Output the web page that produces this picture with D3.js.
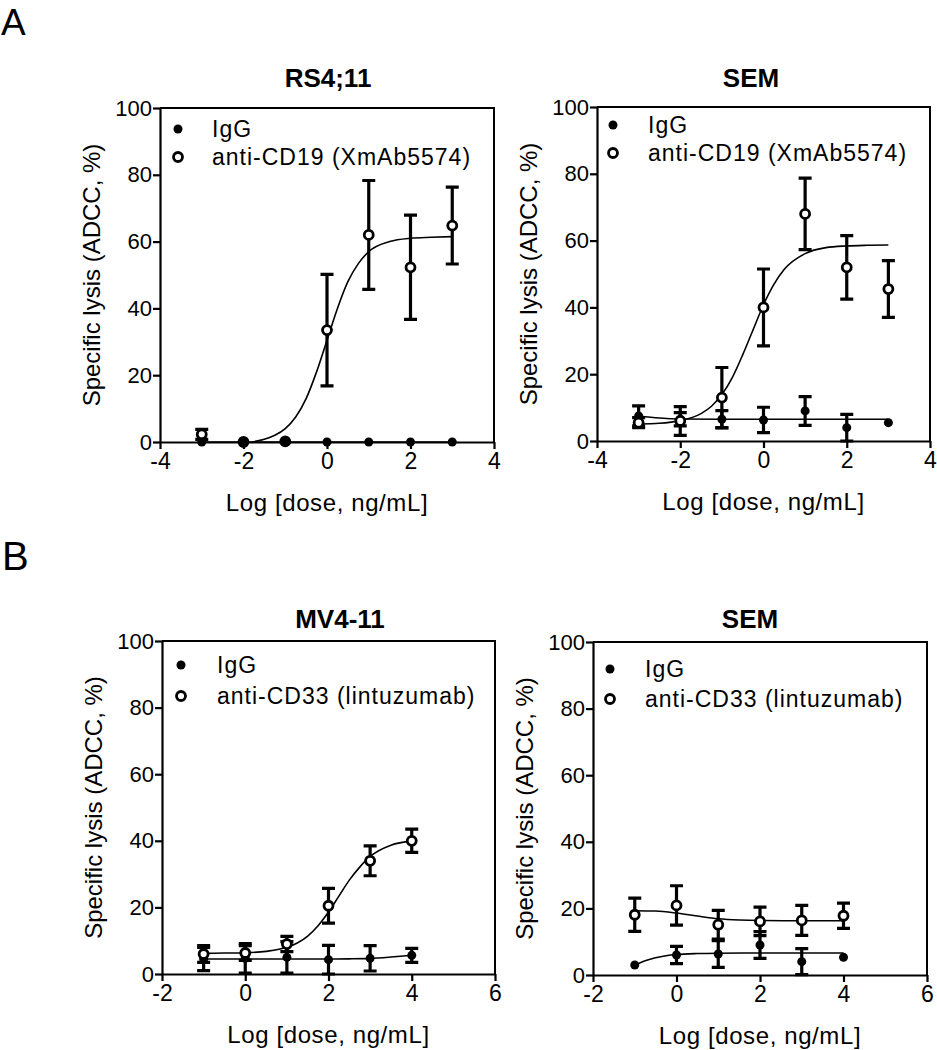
<!DOCTYPE html>
<html><head><meta charset="utf-8">
<script src="https://cdn.jsdelivr.net/npm/d3@7"></script>
<style>
body{margin:0;background:#fff}
text{font-family:"Liberation Sans",Arial,Helvetica,sans-serif;fill:#000}
</style>
</head><body>
<svg id="chart" width="937" height="1050"></svg>
<script>
// ---------------- DATA ----------------
const dosesA = [-3, -2, -1, 0, 1, 2, 3];
const dosesB = [-1, 0, 1, 2, 3, 4];
const yTicks = [0, 20, 40, 60, 80, 100];
const xTicksA = [-4, -2, 0, 2, 4];
const xTicksB = [-2, 0, 2, 4, 6];
const seriesNames = ["IgG", "anti-CD19 (XmAb5574)", "anti-CD33 (lintuzumab)"];
const panelTitles = ["RS4;11", "SEM", "MV4-11", "SEM"];
const panelLetters = ["A", "B"];

// RS4;11 (anti-CD19)
const rs411IgG = [0, 0, 0, 0, 0, 0, 0];
const rs411IgGErr = [0, 0, 0, 0, 0, 0, 0];
const rs411Ab = [2.3, 0, 0.2, 33.5, 62, 52.3, 64.8];
const rs411AbErr = [1.5, 0, 0, 16.7, 16.3, 15.6, 11.5];
const rs411AbFitX = [-1.8, -1.5, -1.25, -1, -0.75, -0.5, -0.25, 0, 0.25, 0.5, 0.75, 1, 1.5, 2, 2.5, 3];
const rs411AbFitY = [0, 0.8, 2, 4, 7.5, 13, 21, 30.5, 40, 48, 53.4, 57, 60, 61, 61.3, 61.5];
const rs411IgGFitX = [-3, 3];
const rs411IgGFitY = [0, 0];

// SEM (anti-CD19)
const semAIgG = [7.5, 6.5, 6.5, 6.3, 9, 4, 5.5];
const semAIgGErr = [3, 2, 2.6, 3.8, 4.3, 4, 0];
const semAAb = [5.5, 6.0, 13, 40, 68, 52, 45.5];
const semAAbErr = [1.5, 4.3, 9, 11.5, 10.7, 9.5, 8.5];
const semAAbFitX = [-3, -2.5, -2, -1.5, -1.25, -1, -0.75, -0.5, -0.25, 0, 0.25, 0.5, 1, 1.5, 2, 2.5, 3];
const semAAbFitY = [5.1, 5.3, 6.1, 8.2, 10.4, 13.9, 19, 25.8, 33.3, 40.8, 46.9, 51.4, 56.1, 57.9, 58.4, 58.6, 58.7];
const semAIgGFitX = [-3, -2.5, -2, -1, 0, 1, 2, 3];
const semAIgGFitY = [7.5, 6.9, 6.6, 6.5, 6.5, 6.5, 6.5, 6.5];

// MV4-11 (anti-CD33)
const mv411IgG = [4.5, 4.7, 5, 4.3, 4.7, 5.6];
const mv411IgGErr = [3.5, 4.4, 4.7, 4.3, 3.8, 2.1];
const mv411Ab = [6, 6.3, 9, 20.5, 34, 40];
const mv411AbErr = [2.5, 2.2, 2.3, 5.2, 4.5, 3.5];
const mv411AbFitX = [-1, -0.5, 0, 0.5, 1, 1.25, 1.5, 1.75, 2, 2.25, 2.5, 2.75, 3, 3.5, 4];
const mv411AbFitY = [6.2, 6.3, 6.4, 6.8, 8.0, 9.3, 11.4, 14.5, 18.6, 23.4, 28.2, 32.1, 35.3, 38.7, 39.9];
const mv411IgGFitX = [-1, 0, 1, 2, 2.5, 3, 3.5, 4];
const mv411IgGFitY = [4.5, 4.5, 4.5, 4.5, 4.55, 4.7, 5.1, 5.6];

// SEM (anti-CD33)
const semBIgG = [3.0, 6.0, 6.3, 9.0, 4.0, 5.3];
const semBIgGErr = [0, 2.6, 4, 4, 3.9, 0];
const semBAb = [18.1, 20.9, 15.1, 16.1, 16.4, 17.8];
const semBAbErr = [5, 5.9, 4.3, 4.3, 4.5, 3.8];
const semBAbFitX = [-1, -0.5, 0, 0.5, 1, 1.5, 2, 3, 4];
const semBAbFitY = [19.3, 19.2, 18.6, 17.7, 16.9, 16.5, 16.35, 16.3, 16.3];
const semBIgGFitX = [-1, -0.75, -0.5, -0.25, 0, 0.5, 1, 2, 3, 4];
const semBIgGFitY = [3.0, 4.3, 5.2, 5.8, 6.15, 6.45, 6.55, 6.6, 6.6, 6.6];

// ---------------- LAYOUT ----------------
const panels = [
  {title: panelTitles[0], x0: 160, x1: 494, y0: 442, y1: 108, xDomain: [-4, 4], xTicks: xTicksA, titleX: 328, titleY: 87,
   legend: [seriesNames[0], seriesNames[1]], legMark: 18, legText: 52, legRows: [21, 49], iggOnTop: true,
   doses: dosesA, igg: rs411IgG, iggErr: rs411IgGErr, ab: rs411Ab, abErr: rs411AbErr,
   abFit: [rs411AbFitX, rs411AbFitY], iggFit: [rs411IgGFitX, rs411IgGFitY], r: 4.5},
  {title: panelTitles[1], x0: 597, x1: 930, y0: 441, y1: 107, xDomain: [-4, 4], xTicks: xTicksA, titleX: 751, titleY: 87,
   legend: [seriesNames[0], seriesNames[1]], legMark: 16, legText: 51, legRows: [18, 46], iggOnTop: false,
   doses: dosesA, igg: semAIgG, iggErr: semAIgGErr, ab: semAAb, abErr: semAAbErr,
   abFit: [semAAbFitX, semAAbFitY], iggFit: [semAIgGFitX, semAIgGFitY], r: 4.5},
  {title: panelTitles[2], x0: 162, x1: 495, y0: 974, y1: 641, xDomain: [-2, 6], xTicks: xTicksB, titleX: 340, titleY: 628,
   legend: [seriesNames[0], seriesNames[2]], legMark: 19, legText: 55, legRows: [24, 55], iggOnTop: false,
   doses: dosesB, igg: mv411IgG, iggErr: mv411IgGErr, ab: mv411Ab, abErr: mv411AbErr,
   abFit: [mv411AbFitX, mv411AbFitY], iggFit: [mv411IgGFitX, mv411IgGFitY], r: 4.5},
  {title: panelTitles[3], x0: 593, x1: 927, y0: 975, y1: 642, xDomain: [-2, 6], xTicks: xTicksB, titleX: 750, titleY: 628,
   legend: [seriesNames[0], seriesNames[2]], legMark: 17, legText: 52, legRows: [27, 57], iggOnTop: false,
   doses: dosesB, igg: semBIgG, iggErr: semBIgGErr, ab: semBAb, abErr: semBAbErr,
   abFit: [semBAbFitX, semBAbFitY], iggFit: [semBIgGFitX, semBIgGFitY], r: 4.5}
];

const svg = d3.select("#chart");
svg.append("rect").attr("width", 937).attr("height", 1050).attr("fill", "#fff");

svg.append("text").attr("x", 1).attr("y", 35).attr("font-size", 37).text(panelLetters[0]);
svg.append("text").attr("x", 2).attr("y", 570).attr("font-size", 40).text(panelLetters[1]);

panels.forEach(p => {
  const x = d3.scaleLinear().domain(p.xDomain).range([p.x0, p.x1]);
  const y = d3.scaleLinear().domain([0, 100]).range([p.y0, p.y1]);
  const g = svg.append("g");

  // frame (top and right edges)
  g.append("path")
    .attr("d", `M${p.x0},${p.y1}H${p.x1}V${p.y0}`)
    .attr("fill", "none").attr("stroke", "#000").attr("stroke-width", 2);

  // axes
  const ya = g.append("g").attr("transform", `translate(${p.x0},0)`)
    .call(d3.axisLeft(y).tickValues(yTicks).tickFormat(d => String(d)).tickSize(7).tickSizeOuter(0).tickPadding(1));
  ya.selectAll("text").attr("font-size", 22).attr("font-family", null);
  const xa = g.append("g").attr("transform", `translate(0,${p.y0})`)
    .call(d3.axisBottom(x).tickValues(p.xTicks).tickFormat(d => String(d)).tickSize(7).tickSizeOuter(0).tickPadding(4));
  xa.selectAll("text").attr("font-size", 23).attr("font-family", null);
  [ya, xa].forEach(a => {
    a.select(".domain").attr("stroke-width", 2.2);
    a.selectAll(".tick line").attr("stroke-width", 2.2);
  });

  // title
  g.append("text").attr("x", p.titleX).attr("y", p.titleY).attr("text-anchor", "middle")
    .attr("font-size", 26).attr("font-weight", "bold").text(p.title);

  // axis labels
  g.append("text").attr("x", (p.x0 + p.x1) / 2).attr("y", p.y0 + 69).attr("text-anchor", "middle")
    .attr("font-size", 24).attr("letter-spacing", 0.6).text("Log [dose, ng/mL]");
  g.append("text")
    .attr("transform", `translate(${p.x0 - 60},${(p.y0 + p.y1) / 2}) rotate(-90)`)
    .attr("text-anchor", "middle").attr("font-size", 24).text("Specific lysis (ADCC, %)");

  // fit curves
  const line = d3.line().x(d => x(d[0])).y(d => y(d[1])).curve(d3.curveMonotoneX);
  [p.iggFit, p.abFit].forEach(f => {
    const pts = f[0].map((v, i) => [v, f[1][i]]);
    g.append("path").attr("d", line(pts)).attr("fill", "none")
      .attr("stroke", "#000").attr("stroke-width", 1.6);
  });

  // error bars
  const cap = 6.5;
  const drawErr = (vals, errs) => {
    p.doses.forEach((d, i) => {
      const e = errs[i];
      if (!e) return;
      const cx = x(d), yt = y(vals[i] + e), yb = y(Math.max(0, vals[i] - e));
      g.append("path")
        .attr("d", `M${cx},${yt}V${yb}M${cx - cap},${yt}H${cx + cap}M${cx - cap},${yb}H${cx + cap}`)
        .attr("fill", "none").attr("stroke", "#000").attr("stroke-width", 3.2);
    });
  };
  drawErr(p.igg, p.iggErr);
  drawErr(p.ab, p.abErr);

  // markers
  const drawFilled = () => g.selectAll(null).data(p.doses).enter().append("circle")
    .attr("cx", d => x(d)).attr("cy", (d, i) => y(p.igg[i])).attr("r", p.r).attr("fill", "#000");
  const drawOpen = () => g.selectAll(null).data(p.doses).enter().append("circle")
    .attr("cx", d => x(d)).attr("cy", (d, i) => y(p.ab[i])).attr("r", p.r)
    .attr("fill", "#fff").attr("stroke", "#000").attr("stroke-width", 2.8);
  if (p.iggOnTop) { drawOpen(); drawFilled(); } else { drawFilled(); drawOpen(); }

  // legend
  const lx = p.x0 + p.legMark, tx = p.x0 + p.legText;
  const r0 = p.y1 + p.legRows[0], r1 = p.y1 + p.legRows[1];
  g.append("circle").attr("cx", lx).attr("cy", r0).attr("r", p.r).attr("fill", "#000");
  g.append("circle").attr("cx", lx).attr("cy", r1).attr("r", p.r)
    .attr("fill", "#fff").attr("stroke", "#000").attr("stroke-width", 2.8);
  g.append("text").attr("x", tx).attr("y", r0 + 8).attr("font-size", 23).attr("letter-spacing", 1).text(p.legend[0]);
  g.append("text").attr("x", tx).attr("y", r1 + 8).attr("font-size", 23).attr("letter-spacing", 1).text(p.legend[1]);
});
</script>
</body></html>
